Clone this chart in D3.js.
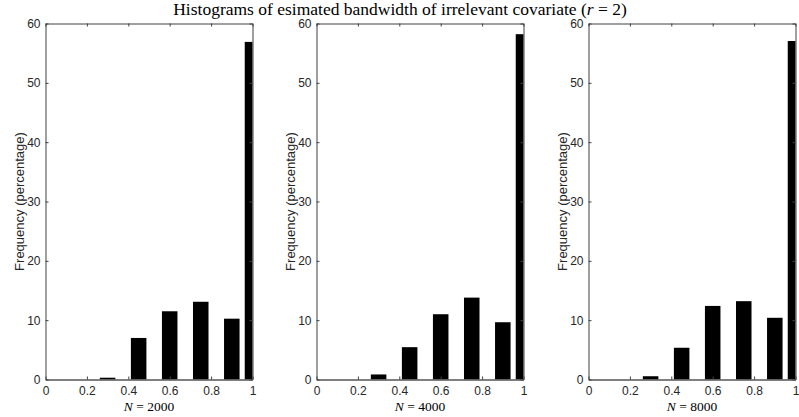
<!DOCTYPE html>
<html>
<head>
<meta charset="utf-8">
<script src="https://cdn.jsdelivr.net/npm/d3@7"></script>
<style>
  body { margin: 0; background: #fff; }
  svg { display: block; }
</style>
</head>
<body>
<div id="chart"></div>
<script>
// bin centres of the estimated bandwidth
var centers = [0, 0.15, 0.3, 0.45, 0.6, 0.75, 0.9, 1.0];
// frequencies (percentage) for each sample size
var freq2000 = [0, 0, 0.3, 7.0, 11.5, 13.1, 10.25, 56.9];
var freq4000 = [0, 0, 0.85, 5.45, 11.0, 13.8, 9.65, 58.2];
var freq8000 = [0, 0, 0.55, 5.35, 12.4, 13.2, 10.4, 57.05];
var panelLabels = ["2000", "4000", "8000"];
var xTicks = [0, 0.2, 0.4, 0.6, 0.8, 1];
var yTicks = [0, 10, 20, 30, 40, 50, 60];

function main() {
    var W = 799, H = 417;
    var top = 23.5, bottom = 379.5, pw = 207;
    var lefts = [45.5, 316.5, 588.5];
    var barWidth = 0.075;
    var axisColor = "#404040";
    var series = [freq2000, freq4000, freq8000];

    var svg = d3.select("#chart")
    .append("svg")
    .attr("width", W)
    .attr("height", H);

    // title
    svg.append("text")
    .attr("x", 400)
    .attr("y", 15)
    .attr("text-anchor", "middle")
    .style("font-family", "'Liberation Serif', 'DejaVu Serif', serif")
    .style("font-size", "17.5px")
    .html("Histograms of esimated bandwidth of irrelevant covariate (<tspan font-style='italic'>r</tspan> = 2)");

    series.forEach(function(vals, i) {
        var x = d3.scaleLinear().domain([0, 1]).range([0, pw]);
        var y = d3.scaleLinear().domain([0, 60]).range([bottom - top, 0]);
        var g = svg.append("g")
        .attr("transform", "translate(" + lefts[i] + "," + top + ")");

        g.append("clipPath").attr("id", "clip" + i)
        .append("rect").attr("x", 0).attr("y", -5).attr("width", pw).attr("height", bottom - top + 5);

        //bars
        g.append("g").attr("clip-path", "url(#clip" + i + ")")
        .selectAll("rect")
        .data(centers.map(function(c, k) { return { c: c, v: vals[k] }; }))
        .enter().append("rect")
        .attr("x", d => x(d.c - barWidth / 2))
        .attr("width", d => x(barWidth) - x(0))
        .attr("y", d => y(d.v))
        .attr("height", d => y(0) - y(d.v))
        .attr("fill", "#000");

        // bottom axis
        var xa = g.append("g").attr("transform", "translate(0," + (bottom - top) + ")")
        .call(d3.axisBottom(x).tickValues(xTicks).tickSizeInner(-3).tickSizeOuter(0).tickPadding(7)
            .tickFormat(d3.format("")));
        // top axis (mirror ticks)
        var xt = g.append("g")
        .call(d3.axisTop(x).tickValues(xTicks).tickSizeInner(-3).tickSizeOuter(0).tickFormat(""));
        // left axis
        var ya = g.append("g")
        .call(d3.axisLeft(y).tickValues(yTicks).tickSizeInner(-3).tickSizeOuter(0).tickPadding(5));
        // right axis
        var yr = g.append("g").attr("transform", "translate(" + pw + ",0)")
        .call(d3.axisRight(y).tickValues(yTicks).tickSizeInner(-3).tickSizeOuter(0).tickFormat(""));

        [xa, xt, ya, yr].forEach(function(a) {
            a.selectAll("path, line").attr("stroke", axisColor);
            a.selectAll("text")
            .attr("fill", "#262626")
            .style("font-family", "'Liberation Sans', Arial, sans-serif")
            .style("font-size", "12px");
        });
        xa.select("path").attr("stroke", "#000");

        // x label
        g.append("text")
        .attr("x", pw / 2)
        .attr("y", 411 - top)
        .attr("text-anchor", "middle")
        .style("font-family", "'Liberation Serif', 'DejaVu Serif', serif")
        .style("font-size", "13.5px")
        .html("<tspan font-style='italic'>N</tspan> = " + panelLabels[i]);

        // y label
        g.append("text")
        .attr("transform", "translate(-21.5," + ((bottom - top) / 2) + ") rotate(-90)")
        .attr("text-anchor", "middle")
        .attr("fill", "#262626")
        .style("font-family", "'Liberation Sans', Arial, sans-serif")
        .style("font-size", "13px")
        .text("Frequency (percentage)");
    });
}
main();
</script>
</body>
</html>
